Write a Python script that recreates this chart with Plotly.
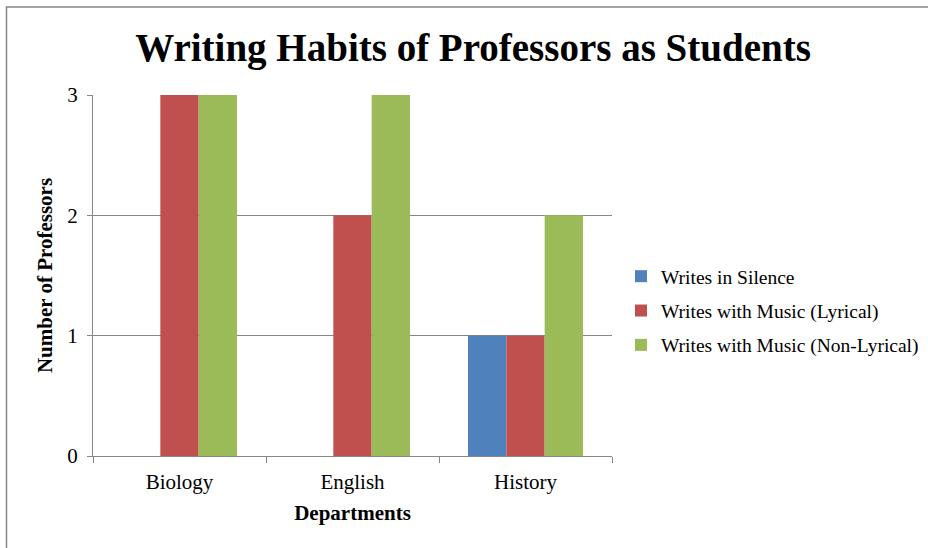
import plotly.graph_objects as go

departments = ["Biology", "English", "History"]
writes_in_silence = [0, 0, 1]
writes_music_lyrical = [3, 2, 1]
writes_music_nonlyrical = [3, 3, 2]
series_names = ["Writes in Silence", "Writes with Music (Lyrical)", "Writes with Music (Non-Lyrical)"]
colors = ["#4F81BD", "#C0504D", "#9BBB59"]
y_ticks = [0, 1, 2, 3]

FONT = "Liberation Serif, Times New Roman, serif"

fig = go.Figure()
for name, vals, col in zip(series_names,
                           [writes_in_silence, writes_music_lyrical, writes_music_nonlyrical],
                           colors):
    fig.add_trace(go.Bar(x=departments, y=vals, name=name, marker_color=col,
                         marker_line_width=0, legendgroup=name))

W, H = 928, 548
L, R, T, B = 93, 612, 95, 456
pw, ph = R - L, B - T

fig.update_layout(
    width=W, height=H,
    margin=dict(l=L, r=W - R, t=T, b=H - B, pad=0, autoexpand=False),
    paper_bgcolor="white", plot_bgcolor="white",
    barmode="group", bargap=0.335, bargroupgap=0,
    font=dict(family=FONT, color="black"),
    title=dict(text="<b>Writing Habits of Professors as Students</b>",
               font=dict(size=39, family=FONT, color="black"),
               xref="container", x=473 / W, xanchor="center",
               yref="container", y=1 - 47 / H, yanchor="middle"),
    legend=dict(x=(621 - L) / pw, xanchor="left", y=(B - 311) / ph, yanchor="middle",
                font=dict(size=19.5, family=FONT, color="black"),
                tracegroupgap=6, bgcolor="rgba(0,0,0,0)"),
    xaxis=dict(title=dict(text="<b>Departments</b>", font=dict(size=21, family=FONT), standoff=12),
               tickfont=dict(size=21, family=FONT), showline=True, linecolor="#878787",
               linewidth=1, ticks="outside", tickson="boundaries", ticklen=6,
               ticklabelstandoff=7,
               tickcolor="#878787", showgrid=False),
    yaxis=dict(title=dict(text="<b>Number of Professors</b>", font=dict(size=21, family=FONT), standoff=8),
               range=[0, 3], tickvals=y_ticks, tickfont=dict(size=21, family=FONT),
               showline=True, linecolor="#878787", linewidth=1, ticks="outside", ticklen=5,
               ticklabelstandoff=5,
               tickcolor="#878787", showgrid=True, gridcolor="#878787", gridwidth=1,
               zeroline=False),
    shapes=[dict(type="rect", xref="paper", yref="paper",
                 x0=(6.5 - L) / pw, x1=(W + 20 - L) / pw,
                 y0=(B - (H + 20)) / ph, y1=(B - 7) / ph,
                 line=dict(color="#868686", width=1.5), fillcolor="rgba(0,0,0,0)", layer="below")],
)

fig.write_html("out.html")
